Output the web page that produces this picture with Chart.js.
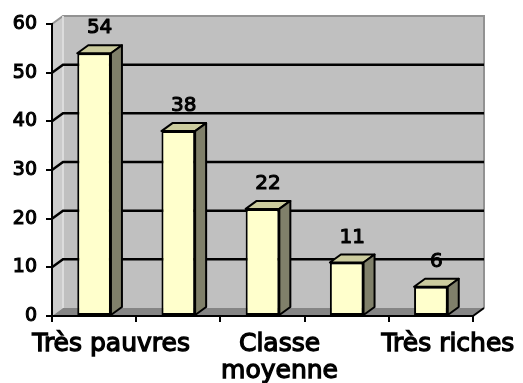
<!DOCTYPE html>
<html>
<head>
<meta charset="utf-8">
<script src="https://cdn.jsdelivr.net/npm/chart.js@4"></script>
<style>
  html, body { margin: 0; padding: 0; background: #fff; }
  #wrap { width: 523px; height: 383px; }
</style>
</head>
<body>
<div id="wrap"><canvas id="classesChart"></canvas></div>
<script>
// Répartition par classe de revenu
const categories = ['Très pauvres', '', ['Classe', 'moyenne'], '', 'Très riches'];
const values = [54, 38, 22, 11, 6];
const yTicks = [0, 10, 20, 30, 40, 50, 60];

// fake 3D depth (pixels)
const DX = 11;
const DY = -8;

const FONT = "'DejaVu Sans', sans-serif";

function poly(ctx, pts) {
  ctx.beginPath();
  ctx.moveTo(pts[0][0], pts[0][1]);
  for (let i = 1; i < pts.length; i++) ctx.lineTo(pts[i][0], pts[i][1]);
  ctx.closePath();
}

// walls, floor and gridlines on the back wall
const walls3d = {
  id: 'walls3d',
  beforeDraw(chart) {
    const { ctx, chartArea: a, scales: { y } } = chart;
    ctx.save();

    // side wall
    poly(ctx, [[a.left, a.top], [a.left + DX, a.top + DY], [a.left + DX, a.bottom + DY], [a.left, a.bottom]]);
    ctx.fillStyle = '#cbcbcb';
    ctx.fill();

    // back wall
    ctx.fillStyle = '#c0c0c0';
    ctx.fillRect(a.left + DX, a.top + DY, a.right - a.left, a.bottom - a.top);

    // floor
    poly(ctx, [[a.left, a.bottom], [a.left + DX, a.bottom + DY], [a.right + DX, a.bottom + DY], [a.right, a.bottom]]);
    ctx.fillStyle = '#858585';
    ctx.fill();

    // wall outline
    ctx.strokeStyle = '#929292';
    ctx.lineWidth = 2;
    ctx.beginPath();
    ctx.moveTo(a.left, a.top);
    ctx.lineTo(a.left + DX, a.top + DY);
    ctx.lineTo(a.right + DX, a.top + DY);
    ctx.lineTo(a.right + DX, a.bottom + DY);
    ctx.stroke();
    ctx.strokeStyle = '#dcdcdc';
    ctx.beginPath();
    ctx.moveTo(a.left + DX, a.top + DY);
    ctx.lineTo(a.left + DX, a.bottom + DY);
    ctx.stroke();

    // gridlines
    ctx.strokeStyle = '#000';
    ctx.lineWidth = 2.5;
    yTicks.forEach(v => {
      if (v === y.min || v === y.max) return;
      const py = y.getPixelForValue(v);
      ctx.beginPath();
      ctx.moveTo(a.left, py);
      ctx.lineTo(a.left + DX, py + DY);
      ctx.lineTo(a.right + DX, py + DY);
      ctx.stroke();
    });

    // floor edge on the right
    ctx.lineWidth = 2;
    ctx.beginPath();
    ctx.moveTo(a.right, a.bottom);
    ctx.lineTo(a.right + DX, a.bottom + DY);
    ctx.stroke();

    ctx.restore();
  },

  // top and side faces of the columns + value labels
  afterDatasetsDraw(chart) {
    const { ctx } = chart;
    const meta = chart.getDatasetMeta(0);
    ctx.save();
    ctx.lineJoin = 'round';
    ctx.strokeStyle = '#000';

    meta.data.forEach((bar, i) => {
      const { x, y: top, base, width } = bar.getProps(['x', 'y', 'base', 'width'], true);
      const l = x - width / 2;
      const r = x + width / 2;

      ctx.lineWidth = 2;
      poly(ctx, [[l, top], [l + DX, top + DY], [r + DX, top + DY], [r, top]]);
      ctx.fillStyle = '#cccc9e';
      ctx.fill();
      ctx.stroke();

      poly(ctx, [[r, top], [r + DX, top + DY], [r + DX, base + DY], [r, base]]);
      ctx.fillStyle = '#80806a';
      ctx.fill();
      ctx.stroke();

      const txt = String(values[i]);
      const tx = x + DX / 2;
      const ty = top - 25;
      ctx.fillStyle = '#000';
      ctx.font = '20px ' + FONT;
      ctx.textAlign = 'center';
      ctx.textBaseline = 'middle';
      ctx.lineWidth = 1.1;
      ctx.strokeText(txt, tx, ty);
      ctx.fillText(txt, tx, ty);
    });
    ctx.restore();
  }
};

const ctx = document.getElementById('classesChart').getContext('2d');

new Chart(ctx, {
  type: 'bar',
  data: {
    labels: categories,
    datasets: [{
      data: values,
      backgroundColor: '#ffffcc',
      borderColor: '#000',
      borderWidth: 2,
      borderSkipped: false,
      barPercentage: 0.4,
      categoryPercentage: 1
    }]
  },
  options: {
    responsive: true,
    maintainAspectRatio: false,
    animation: false,
    layout: { padding: { top: 24, right: 50, left: 0, bottom: 0 } },
    plugins: {
      legend: { display: false },
      tooltip: { enabled: false }
    },
    scales: {
      x: {
        grid: { drawOnChartArea: false, offset: true, tickLength: 6, color: '#000', lineWidth: 2 },
        border: { color: '#000', width: 2 },
        ticks: {
          autoSkip: false,
          maxRotation: 0,
          labelOffset: 17,
          padding: 9,
          color: '#000',
          textStrokeColor: '#000',
          textStrokeWidth: 1.3,
          font: { family: FONT, size: 25, lineHeight: 1.08 }
        },
        afterFit: (s) => { s.height = 67; }
      },
      y: {
        min: 0,
        max: 60,
        grid: { drawOnChartArea: false, tickLength: 6, color: '#000', lineWidth: 2 },
        border: { color: '#000', width: 2 },
        ticks: {
          padding: 9,
          color: '#000',
          textStrokeColor: '#000',
          textStrokeWidth: 1.1,
          font: { family: FONT, size: 19 }
        },
        afterBuildTicks: (s) => { s.ticks = yTicks.map(v => ({ value: v })); },
        afterFit: (s) => { s.width = 52; }
      }
    }
  },
  plugins: [walls3d]
});
</script>
</body>
</html>
